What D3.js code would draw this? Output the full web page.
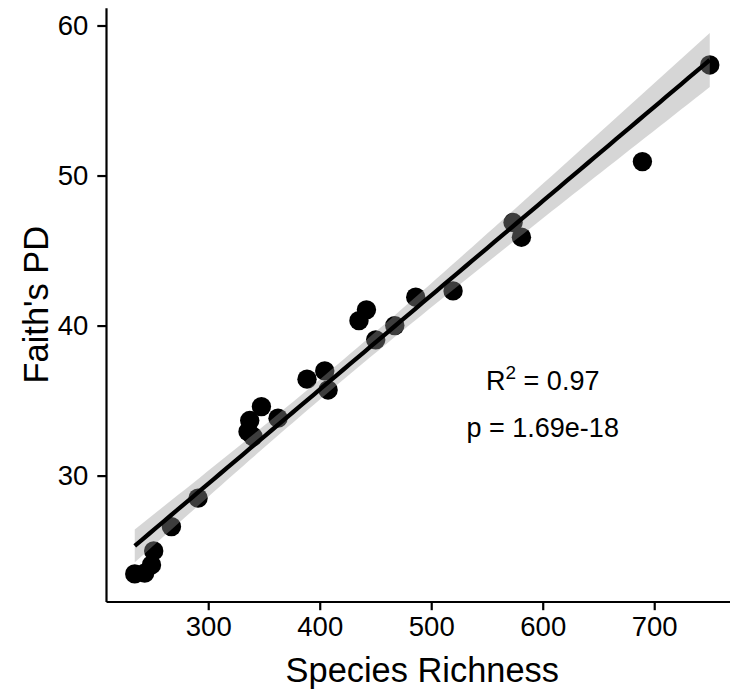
<!DOCTYPE html>
<html>
<head>
<meta charset="utf-8">
<script src="https://cdn.jsdelivr.net/npm/d3@7/dist/d3.min.js"></script>
<style>
  html, body { margin: 0; padding: 0; background: #fff; }
  svg { display: block; font-family: "Liberation Sans", Arial, Helvetica, sans-serif; }
</style>
</head>
<body>
<svg id="chart" width="730" height="694"></svg>
<script>
// ---- Data ----
const speciesRichness = [234.1, 243.0, 249.1, 251.1, 267.0, 290.9, 335.7, 337.2, 340.2, 347.7,
                         362.6, 388.6, 404.5, 407.5, 435.2, 441.9, 450.2, 467.3, 486.1, 519.6,
                         573.4, 580.9, 689.4, 749.8];
const faithsPD       = [23.45, 23.5, 24.05, 24.98, 26.6, 28.5, 32.93, 33.67, 32.6, 34.6,
                         33.83, 36.43, 36.98, 35.71, 40.33, 41.05, 39.05, 40.0, 41.89, 42.31,
                         46.87, 45.89, 50.93, 57.37];
const xTicks = [300, 400, 500, 600, 700];
const yTicks = [30, 40, 50, 60];
const xLabel = "Species Richness";
const yLabel = "Faith's PD";
const r2Label = "0.97";
const pLabel = "p = 1.69e-18";

// ---- Linear model with 95% confidence band ----
const n = speciesRichness.length;
const xbar = d3.mean(speciesRichness), ybar = d3.mean(faithsPD);
let sxx = 0, sxy = 0;
for (let i = 0; i < n; i++) {
  sxx += (speciesRichness[i] - xbar) ** 2;
  sxy += (speciesRichness[i] - xbar) * (faithsPD[i] - ybar);
}
const slope = sxy / sxx, intercept = ybar - slope * xbar;
let sse = 0;
for (let i = 0; i < n; i++) sse += (faithsPD[i] - (intercept + slope * speciesRichness[i])) ** 2;
const sigma = Math.sqrt(sse / (n - 2));
const tq = 2.074; // t(0.975, df = 22)
const [xmin, xmax] = d3.extent(speciesRichness);
const fit = d3.range(0, 81).map(k => {
  const x = xmin + (xmax - xmin) * k / 80;
  const y = intercept + slope * x;
  const se = sigma * Math.sqrt(1 / n + (x - xbar) ** 2 / sxx);
  return { x, y, lo: y - tq * se, hi: y + tq * se };
});

// ---- Scales ----
const xr = xmax - xmin;
const x = d3.scaleLinear().domain([xmin - 0.05 * xr, xmax + 0.05 * xr]).range([106, 738.5]);
const y = d3.scaleLinear().domain([21.61, 61.18]).range([601.5, 7.8]);

const svg = d3.select("#chart");

// points
svg.append("g").selectAll("circle")
  .data(speciesRichness.map((v, i) => [v, faithsPD[i]]))
  .join("circle")
  .attr("cx", d => x(d[0])).attr("cy", d => y(d[1])).attr("r", 9.7)
  .attr("fill", "#000");

// confidence ribbon
svg.append("path").datum(fit)
  .attr("d", d3.area().x(d => x(d.x)).y0(d => y(d.lo)).y1(d => y(d.hi)))
  .attr("fill", "#999999").attr("fill-opacity", 0.4);

// regression line
svg.append("path").datum(fit)
  .attr("d", d3.line().x(d => x(d.x)).y(d => y(d.y)))
  .attr("fill", "none").attr("stroke", "#000").attr("stroke-width", 4.3);

// axes
const xAxis = svg.append("g").attr("transform", `translate(0,${y.range()[0]})`)
  .call(d3.axisBottom(x).tickValues(xTicks).tickSize(8.7).tickPadding(6.5).tickSizeOuter(0));
const yAxis = svg.append("g").attr("transform", `translate(${x.range()[0]},0)`)
  .call(d3.axisLeft(y).tickValues(yTicks).tickSize(8.7).tickPadding(9).tickSizeOuter(0));
[xAxis, yAxis].forEach(g => {
  g.select(".domain").attr("stroke", "#000").attr("stroke-width", 2.2);
  g.selectAll(".tick line").attr("stroke", "#000").attr("stroke-width", 2.2);
  g.selectAll(".tick text").attr("fill", "#000").attr("font-size", 27.5)
    .attr("font-family", "Liberation Sans, Arial, sans-serif");
});

// axis titles
svg.append("text").attr("x", (x.range()[0] + x.range()[1]) / 2).attr("y", 682)
  .attr("text-anchor", "middle").attr("font-size", 34.4).attr("fill", "#000").text(xLabel);
svg.append("text")
  .attr("transform", `translate(48,${(y.range()[0] + y.range()[1]) / 2}) rotate(-90)`)
  .attr("text-anchor", "middle").attr("font-size", 34.4).attr("fill", "#000").text(yLabel);

// annotation
const ann = svg.append("text").attr("x", x(600)).attr("y", y(35.7))
  .attr("text-anchor", "middle").attr("font-size", 27).attr("fill", "#000");
ann.append("tspan").text("R");
ann.append("tspan").attr("dy", -11).attr("font-size", 19).text("2");
ann.append("tspan").attr("dy", 11).text(" = " + r2Label);
svg.append("text").attr("x", x(600)).attr("y", y(32.6))
  .attr("text-anchor", "middle").attr("font-size", 27).attr("fill", "#000").text(pLabel);
</script>
</body>
</html>
